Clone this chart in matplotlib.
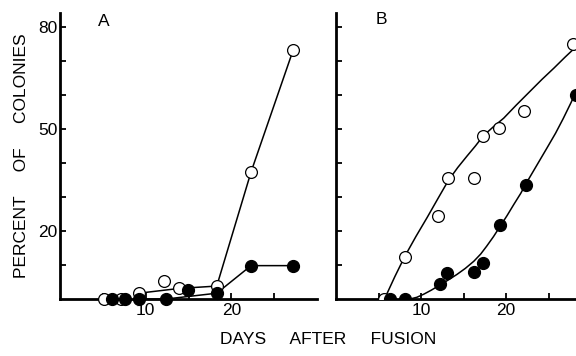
import matplotlib
matplotlib.use("Agg")
import matplotlib.pyplot as plt

plt.rcParams["font.family"] = ["Liberation Sans", "DejaVu Sans"]

# panel A: open and filled circles, joined point to point
a_open_day = [5.1, 7.1, 9.2, 12.1, 13.9, 18.3, 22.3, 27.2]
a_open_pct = [0, 0, 1.7, 5.3, 3.1, 3.8, 37.3, 73.0]
a_open_line = [2, 4, 5, 6, 7]
a_fill_day = [6.1, 7.6, 9.2, 12.4, 14.9, 18.3, 22.3, 27.2]
a_fill_pct = [0, 0, 0, 0, 2.6, 1.7, 9.8, 9.8]
a_fill_line = [2, 3, 5, 6, 7]

# panel B: scatter plus hand-drawn curves
b_open_day = [5.6, 8.1, 12.0, 13.2, 16.2, 17.3, 19.2, 22.1, 27.9]
b_open_pct = [0, 12.3, 24.3, 35.6, 35.6, 48.0, 50.2, 55.3, 74.9]
b_fill_day = [6.4, 8.1, 12.2, 13.1, 16.2, 17.3, 19.3, 22.3, 28.2]
b_fill_pct = [0, 0, 4.5, 7.7, 8.0, 10.6, 21.6, 33.6, 60.0]
b_open_curve_day = [5.7, 6.9, 8.1, 9.4, 10.7, 12.0, 13.2, 14.3, 15.4, 16.4, 17.3, 18.5, 19.7, 21.2, 22.8, 24.2, 25.6, 26.9, 28.3]
b_open_curve_pct = [0, 6.5, 12.6, 18.4, 23.9, 29.6, 34.8, 38.6, 42.0, 45.0, 47.9, 50.6, 53.1, 57.0, 61.0, 64.5, 67.8, 71.0, 74.3]
b_fill_curve_day = [7.6, 8.7, 9.5, 10.3, 11.2, 12.2, 13.2, 14.2, 15.2, 16.2, 17.0, 17.7, 18.5, 19.3, 20.1, 20.9, 21.7, 22.4, 23.6, 24.8, 25.8, 26.7, 27.6, 28.5]
b_fill_curve_pct = [0, 0, 0.5, 1.4, 2.6, 4.1, 5.6, 7.2, 9.0, 11.1, 13.2, 15.5, 18.3, 21.4, 24.5, 27.8, 31.0, 34.2, 39.3, 44.4, 48.7, 53.0, 57.6, 62.5]

y_ticks = [10, 20, 30, 40, 50, 60, 70, 80]
y_labels = ["", "20", "", "", "50", "", "", "80"]
x_ticks = [5, 10, 15, 20, 25]
x_labels = ["", "10", "", "20", ""]

W, H = 576, 356
fig = plt.figure(figsize=(W / 100, H / 100), dpi=100)
axA = fig.add_axes([60 / W, 1 - 299 / H, 257 / W, 286 / H])
axB = fig.add_axes([336 / W, 1 - 299 / H, 240 / W, 286 / H])

ms = 8.5
for ax, xmax in ((axA, 30), (axB, 28.2)):
    ax.set_xlim(0, xmax)
    ax.set_ylim(0, 84)
    for s in ("top", "right"):
        ax.spines[s].set_visible(False)
    for s in ("left", "bottom"):
        ax.spines[s].set_linewidth(2.0)
    ax.set_xticks(x_ticks)
    ax.set_xticklabels(x_labels)
    ax.set_yticks(y_ticks)
    ax.tick_params(direction="in", length=4.5, width=1.3, labelsize=12.5)
    ax.tick_params(axis="y", pad=2)
    ax.tick_params(axis="x", pad=3)

axA.set_yticklabels(y_labels)
axB.set_yticklabels([])

# panel A
axA.plot([a_open_day[i] for i in a_open_line], [a_open_pct[i] for i in a_open_line],
         color="black", lw=1.1, zorder=2)
axA.plot([a_fill_day[i] for i in a_fill_line], [a_fill_pct[i] for i in a_fill_line],
         color="black", lw=1.1, zorder=2)
axA.plot(a_open_day, a_open_pct, "o", ms=ms, mfc="white", mec="black", mew=0.9,
         clip_on=False, zorder=3)
axA.plot(a_fill_day, a_fill_pct, "o", ms=ms, mfc="black", mec="black",
         clip_on=False, zorder=4)

# panel B
axB.plot(b_open_curve_day, b_open_curve_pct, color="black", lw=1.1, zorder=2)
axB.plot(b_fill_curve_day, b_fill_curve_pct, color="black", lw=1.1, zorder=2)
axB.plot(b_open_day, b_open_pct, "o", ms=ms, mfc="white", mec="black", mew=0.9,
         zorder=3)
axB.plot(b_fill_day, b_fill_pct, "o", ms=ms, mfc="black", mec="black", zorder=4)

fig.text(104 / W, 1 - 22 / H, "A", fontsize=12.5, ha="center", va="center")
fig.text(381 / W, 1 - 20 / H, "B", fontsize=12.5, ha="center", va="center")
fig.text(22 / W, 1 - 156 / H, "PERCENT     OF     COLONIES", rotation=90,
         fontsize=12.5, ha="center", va="center")
fig.text(328 / W, 1 - 340 / H, "DAYS     AFTER     FUSION", fontsize=12.5,
         ha="center", va="center")

fig.savefig("out.png", dpi=100)
